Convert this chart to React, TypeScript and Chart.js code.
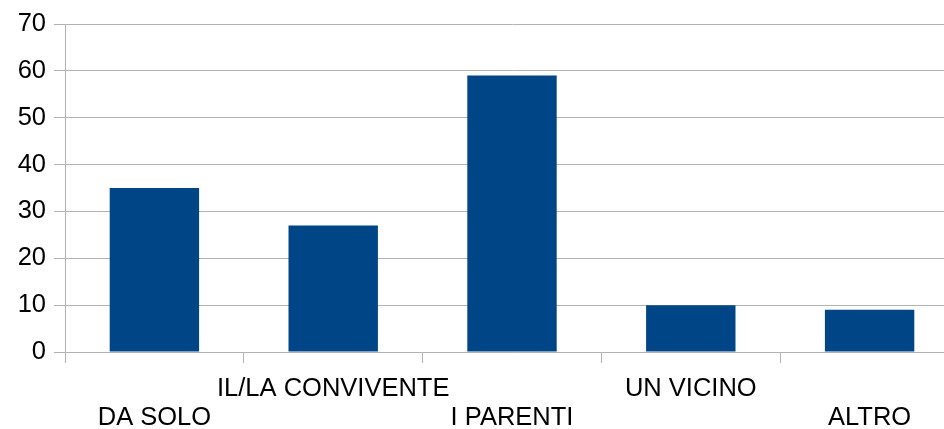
import React, { useEffect, useRef } from "react";
import { Chart, registerables } from "chart.js";

Chart.register(...registerables);

const categories = ["DA SOLO", "IL/LA CONVIVENTE", "I PARENTI", "UN VICINO", "ALTRO"];
const values = [35, 27, 59, 10, 9];
const yTicks = [0, 10, 20, 30, 40, 50, 60, 70];

export default function App() {
  const ref = useRef<HTMLCanvasElement>(null);
  useEffect(() => {
    if (!ref.current) return;
    const font = { family: "'Liberation Sans', Arial, sans-serif", size: 25.5, lineHeight: 1.137 };
    const chart = new Chart(ref.current, {
      type: "bar",
      data: {
        labels: categories,
        datasets: [
          {
            data: values,
            backgroundColor: "#004586",
            borderWidth: 0,
            categoryPercentage: 1,
            barPercentage: 0.5,
          },
        ],
      },
      options: {
        animation: false,
        responsive: false,
        devicePixelRatio: 1,
        layout: { padding: { top: 24, right: 0, left: 0, bottom: 0 } },
        plugins: { legend: { display: false }, tooltip: { enabled: false }, title: { display: false } },
        scales: {
          x: {
            afterFit: (s: any) => {
              s.height = 77;
            },
            grid: { drawOnChartArea: false, drawTicks: true, tickLength: 11, color: "#b3b3b3", offset: true },
            border: { color: "#b3b3b3" },
            ticks: {
              autoSkip: false,
              maxRotation: 0,
              minRotation: 0,
              padding: 11,
              color: "#000",
              font,
              callback: (_v: any, i: number) => (i % 2 === 0 ? ["", categories[i]] : [categories[i], ""]),
            },
          },
          y: {
            min: yTicks[0],
            max: yTicks[yTicks.length - 1],
            afterFit: (s: any) => {
              s.width = 65;
            },
            grid: { color: "#b3b3b3", tickLength: 11 },
            border: { color: "#b3b3b3" },
            ticks: { stepSize: 10, padding: 8, color: "#000", font },
          },
        },
      },
    });
    return () => chart.destroy();
  }, []);
  return (
    <div style={{ position: "fixed", left: 0, top: 0, width: 944, height: 429, overflow: "hidden", background: "#fff" }}>
      <canvas ref={ref} width={959} height={429} style={{ display: "block" }} />
    </div>
  );
}
